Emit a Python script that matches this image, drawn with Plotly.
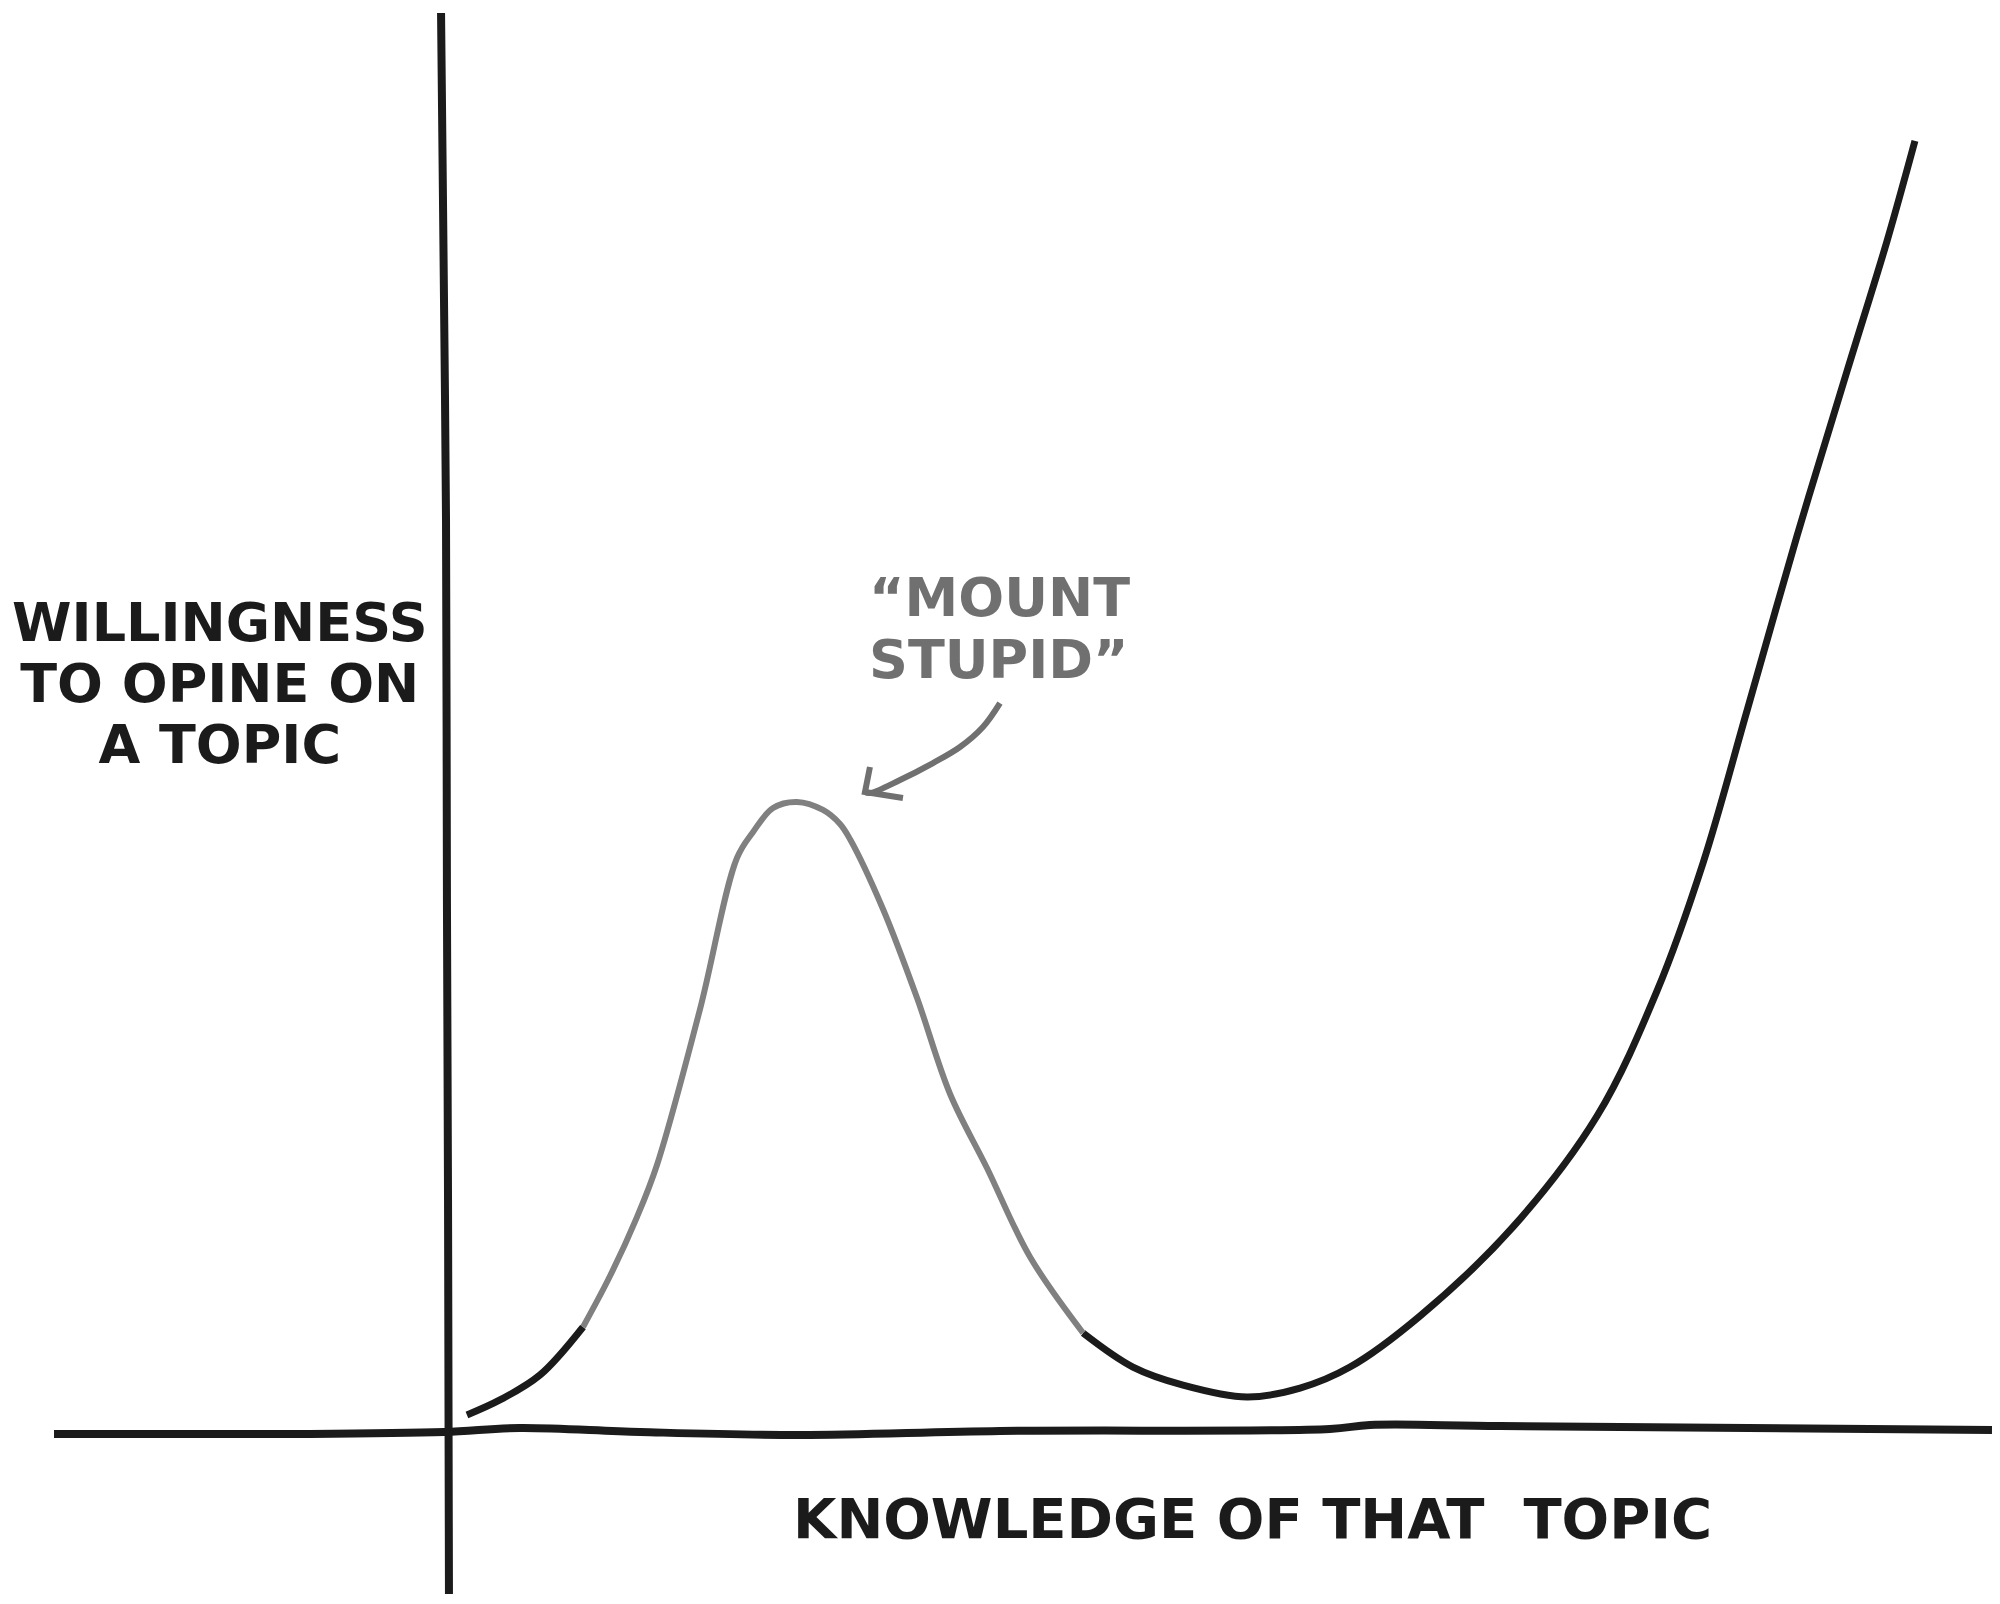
import plotly.graph_objects as go

# Dunning-Kruger style sketch: willingness to opine vs knowledge (0-100 scales)
# values

# left foot of the curve (black)
start_x = [1.48, 3.61, 6.19, 8.97]
start_y = [1.12, 2.17, 3.91, 7.27]

# "Mount Stupid" (gray)
mount_x = [8.97, 10.71, 12.45, 13.74, 16.52, 18.9, 19.94, 21.23, 22.77, 24.45,
           25.55, 26.19, 28.32, 30.52, 32.65, 35.03, 37.81, 41.23]
mount_y = [7.27, 10.83, 14.95, 18.59, 29.49, 40.04, 41.86, 43.54, 43.96, 43.4,
           42.42, 41.37, 36.48, 30.26, 23.55, 18.38, 12.16, 6.85]

# valley and the long climb (black)
climb_x = [41.23, 44.45, 47.68, 51.81, 55.23, 58.45, 62.97, 68.97, 74.39, 78.26,
           81.23, 84.06, 87.29, 90.52, 93.1, 94.9]
climb_y = [6.85, 4.47, 3.21, 2.38, 3.0, 4.47, 8.04, 14.26, 22.01, 30.75,
           39.69, 50.31, 62.54, 74.07, 83.16, 90.15]

# hand drawn axes (slight wobble)
haxis_x = [-25.16, -9.29, 0, 4.9, 12.65, 22.97, 35.87, 57.16, 59.74, 68.13, 99.87]
haxis_y = [-0.21, -0.21, -0.07, 0.21, -0.07, -0.28, 0, 0.14, 0.42, 0.35, 0.07]
vaxis_x = [-0.19, 0, 0.13, 0.19, 0.26, 0.32]
vaxis_y = [99.09, 79.04, 63.66, 37.1, 16.14, -11.39]

# curved pointer to the peak
arrow_x = [35.87, 34.77, 33.29, 31.55, 29.42, 27.48, 27.16]
arrow_y = [50.87, 49.2, 47.8, 46.68, 45.49, 44.58, 44.65]
head_x = [27.48, 27.16, 29.61]
head_y = [46.4, 44.65, 44.23]

y_label = ["WILLINGNESS", "TO OPINE ON", "A TOPIC"]
x_label = "KNOWLEDGE OF THAT  TOPIC"
peak_label = ["\u201cMOUNT", "STUPID\u201d"]

INK = "#1b1b1b"
GRAY = "#808080"
TEXT_GRAY = "#707070"
FONT = "DejaVu Sans"


def stacked(lines, px):
    # glyphs drawn at px, line pitch taken from the (smaller) annotation font size
    return "<br>".join(f"<span style='font-size:{px}px'>{t}</span>" for t in lines)


fig = go.Figure()

fig.add_trace(go.Scatter(x=haxis_x, y=haxis_y, mode="lines", line_shape="spline",
                         line=dict(color=INK, width=8), hoverinfo="skip"))
fig.add_trace(go.Scatter(x=vaxis_x, y=vaxis_y, mode="lines", line_shape="spline",
                         line=dict(color=INK, width=8), hoverinfo="skip"))

fig.add_trace(go.Scatter(x=start_x, y=start_y, mode="lines", line_shape="spline",
                         line=dict(color=INK, width=7)))
fig.add_trace(go.Scatter(x=climb_x, y=climb_y, mode="lines", line_shape="spline",
                         line=dict(color=INK, width=7)))
fig.add_trace(go.Scatter(x=mount_x, y=mount_y, mode="lines", line_shape="spline",
                         line=dict(color=GRAY, width=6)))

fig.add_trace(go.Scatter(x=arrow_x, y=arrow_y, mode="lines", line_shape="spline",
                         line=dict(color=TEXT_GRAY, width=6), hoverinfo="skip"))
fig.add_trace(go.Scatter(x=head_x, y=head_y, mode="lines",
                         line=dict(color=TEXT_GRAY, width=6), hoverinfo="skip"))

fig.add_annotation(x=-14.45, y=52.27, text=stacked(y_label, 54), showarrow=False,
                   align="center",
                   font=dict(family=FONT, size=47, color=INK, weight="bold"))

fig.add_annotation(x=52.19, y=-6.08, text=x_label, showarrow=False,
                   font=dict(family=FONT, size=56, color=INK, weight="bold"))

fig.add_annotation(x=27.29, y=56.08, text=stacked(peak_label, 54), showarrow=False,
                   xanchor="left", align="left",
                   font=dict(family=FONT, size=48, color=TEXT_GRAY, weight="bold"))

# page body adds an 8px margin, so the figure is 16px smaller and ranges shifted
fig.update_xaxes(range=[-28.129, 99.871], visible=False, showgrid=False, zeroline=False)
fig.update_yaxes(range=[-11.53, 99.441], visible=False, showgrid=False, zeroline=False)

fig.update_layout(
    width=1984,
    height=1588,
    showlegend=False,
    plot_bgcolor="white",
    paper_bgcolor="white",
    margin=dict(l=0, r=0, t=0, b=0),
)

fig.write_html("out.html")
